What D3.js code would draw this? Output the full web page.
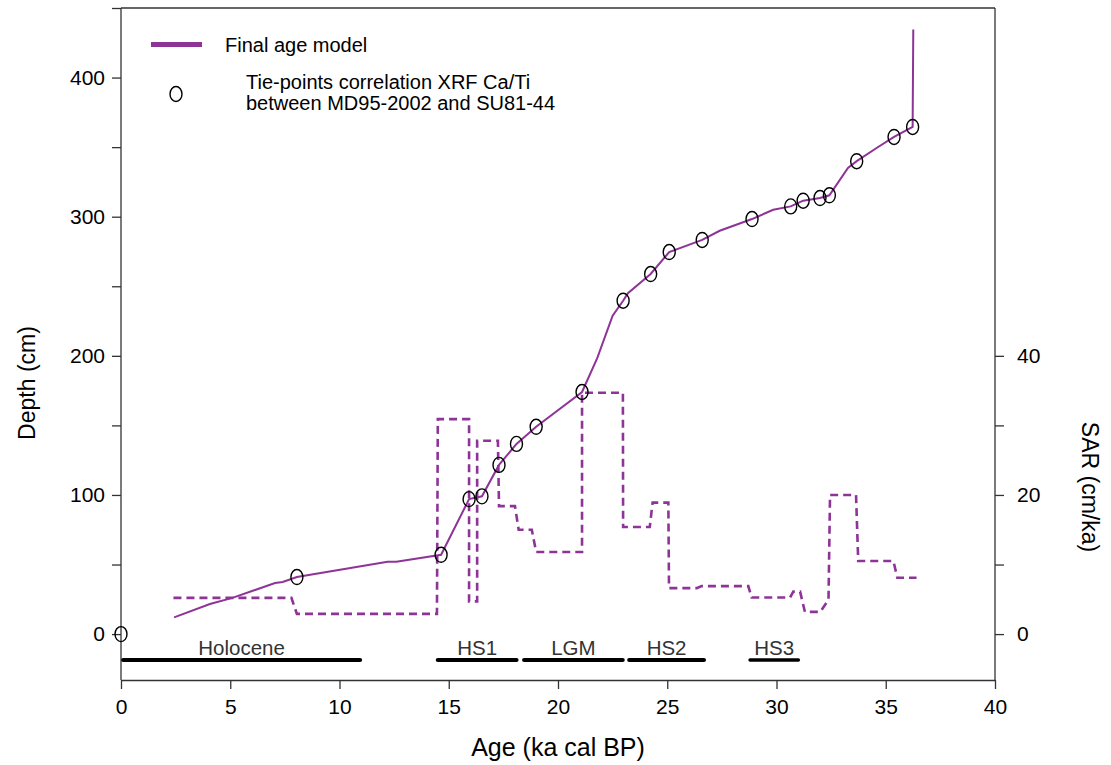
<!DOCTYPE html>
<html>
<head>
<meta charset="utf-8">
<script src="https://cdn.jsdelivr.net/npm/d3@7"></script>
<style>
  body { margin: 0; background: #fff; }
  svg { display: block; font-family: "Liberation Sans", Arial, sans-serif; }
</style>
</head>
<body>
<svg id="chart" width="1111" height="765"></svg>
<script>
// ---- data ----
const modelAge   = [2.43, 4.07, 5.1, 7.05, 7.4, 8.05, 12.2, 12.6, 14.65, 15.93, 16.52, 17.3, 18.1, 19.0, 21.1, 21.8, 22.5, 22.98, 23.2, 24.24, 25.09, 26.6, 27.4, 28.88, 29.85, 30.65, 31.22, 31.99, 32.42, 33.27, 33.67, 34.58, 35.38, 36.23, 36.26];
const modelDepth = [12, 21.6, 26, 36.7, 37.4, 41, 52, 52, 57, 97, 99, 121.6, 136.7, 149, 174, 198.5, 228.8, 239.6, 245, 258.8, 274.6, 283.3, 289.9, 298.3, 305, 307.4, 311.5, 313.4, 315.4, 335, 339.9, 349.4, 357.3, 364.5, 434.5];

const tieAge   = [0, 8.05, 14.65, 15.93, 16.52, 17.3, 18.1, 19.0, 21.1, 22.98, 24.24, 25.09, 26.6, 28.88, 30.65, 31.22, 31.99, 32.42, 33.67, 35.38, 36.23];
const tieDepth = [0, 41, 57, 97, 99, 121.6, 136.7, 149, 174, 239.6, 258.8, 274.6, 283.3, 298.3, 307.4, 311.5, 313.4, 315.4, 339.9, 357.3, 364.5];

const sarAge = [2.4, 7.8, 8.05, 14.46, 14.5, 15.93, 15.93, 16.3, 16.3, 17.25, 17.3, 18.03, 18.2, 18.8, 19.0, 21.1, 21.1, 22.97, 22.98, 24.2, 24.33, 25.05, 25.08, 26.35, 26.57, 28.71, 28.86, 30.62, 30.77, 31.08, 31.3, 32.0, 32.38, 32.45, 33.64, 33.74, 35.35, 35.53, 36.41];
const sarVal = [5.2, 5.2, 2.9, 2.9, 30.9, 30.9, 4.7, 4.7, 27.8, 27.8, 18.4, 18.4, 15.0, 15.0, 11.8, 11.8, 34.7, 34.7, 15.4, 15.4, 18.9, 18.9, 6.6, 6.6, 6.9, 6.9, 5.25, 5.25, 6.1, 6.1, 3.2, 3.2, 4.9, 20.0, 20.0, 10.5, 10.5, 8.1, 8.1];

const periodNames = ["Holocene", "HS1", "LGM", "HS2", "HS3"];
const periodStart = [0.1, 14.5, 18.45, 23.26, 28.79];
const periodEnd   = [10.94, 18.1, 22.96, 26.68, 31.0];

const xTicks = [0, 5, 10, 15, 20, 25, 30, 35, 40];
const depthTicks = [0, 50, 100, 150, 200, 250, 300, 350, 400, 450];
const depthLabels = [0, 100, 200, 300, 400];
const sarTicks = [0, 10, 20, 30, 40];
const sarLabels = [0, 20, 40];

const legendLabels = ["Final age model", "Tie-points correlation XRF Ca/Ti", "between MD95-2002 and SU81-44"];

// ---- layout ----
const L = 121, R = 995, T = 8, B = 680;
const purple = "#8e3497";
const axisCol = "#333";

const svg = d3.select("#chart");
const x = d3.scaleLinear().domain([0, 40]).range([L, R]);
const y = d3.scaleLinear().domain([-33, 450]).range([B, T]);
const y2 = d3.scaleLinear().domain([-33 / 5, 450 / 5]).range([B, T]);

// top border
svg.append("line").attr("x1", L).attr("x2", R).attr("y1", T).attr("y2", T)
  .attr("stroke", axisCol).attr("stroke-width", 1.3);

// axes
const styleAxis = g => {
  g.select(".domain").attr("stroke", axisCol).attr("stroke-width", 1.3);
  g.selectAll(".tick line").attr("stroke", axisCol).attr("stroke-width", 1.3);
  g.selectAll(".tick text").attr("fill", "#000").style("font-size", "21px")
    .style("font-family", "'Liberation Sans', Arial, sans-serif");
};

const gx = svg.append("g").attr("transform", `translate(0,${B})`)
  .call(d3.axisBottom(x).tickValues(xTicks).tickSize(9).tickPadding(10).tickSizeOuter(0));
styleAxis(gx);

const gy = svg.append("g").attr("transform", `translate(${L},0)`)
  .call(d3.axisLeft(y).tickValues(depthTicks).tickSize(9).tickPadding(7).tickSizeOuter(0)
    .tickFormat(d => depthLabels.includes(d) ? d : ""));
styleAxis(gy);

const gy2 = svg.append("g").attr("transform", `translate(${R},0)`)
  .call(d3.axisRight(y2).tickValues(sarTicks).tickSize(9).tickPadding(13).tickSizeOuter(0)
    .tickFormat(d => sarLabels.includes(d) ? d : ""));
styleAxis(gy2);
gy2.select(".domain").attr("d", `M0,${T}V${B}`);
gy.select(".domain").attr("d", `M0,${T}V${B}`);

// axis titles
svg.append("text").attr("x", (L + R) / 2).attr("y", 756).attr("text-anchor", "middle")
  .style("font-size", "25px").text("Age (ka cal BP)");
svg.append("text").attr("transform", "translate(35,383) rotate(-90)").attr("text-anchor", "middle")
  .style("font-size", "23px").text("Depth (cm)");
svg.append("text").attr("transform", "translate(1082,487) rotate(90)").attr("text-anchor", "middle")
  .style("font-size", "23px").text("SAR (cm/ka)");

// SAR dashed line
svg.append("path")
  .datum(sarAge.map((a, i) => [a, sarVal[i]]))
  .attr("fill", "none").attr("stroke", purple).attr("stroke-width", 2.6)
  .attr("stroke-dasharray", "8,5")
  .attr("d", d3.line().x(d => x(d[0])).y(d => y2(d[1])));

// age model line
svg.append("path")
  .datum(modelAge.map((a, i) => [a, modelDepth[i]]))
  .attr("fill", "none").attr("stroke", purple).attr("stroke-width", 2)
  .attr("d", d3.line().x(d => x(d[0])).y(d => y(d[1])));

// tie points
svg.append("g").selectAll("ellipse")
  .data(tieAge.map((a, i) => [a, tieDepth[i]]))
  .join("ellipse")
  .attr("cx", d => x(d[0])).attr("cy", d => y(d[1]))
  .attr("rx", 6).attr("ry", 7.5)
  .attr("fill", "none").attr("stroke", "#000").attr("stroke-width", 1.4);

// periods
const pg = svg.append("g");
periodNames.forEach((n, i) => {
  pg.append("line")
    .attr("x1", x(periodStart[i])).attr("x2", x(periodEnd[i]))
    .attr("y1", 660).attr("y2", 660)
    .attr("stroke", "#000").attr("stroke-width", i === 4 ? 3.5 : 4.2).attr("stroke-linecap", "round");
  pg.append("text")
    .attr("x", (x(periodStart[i]) + x(periodEnd[i])) / 2)
    .attr("y", 655).attr("text-anchor", "middle")
    .attr("fill", "#333").style("font-size", "20.5px").text(n);
});

// legend
svg.append("line").attr("x1", 151).attr("x2", 202).attr("y1", 44.5).attr("y2", 44.5)
  .attr("stroke", purple).attr("stroke-width", 5);
svg.append("text").attr("x", 225).attr("y", 52).style("font-size", "20px").text(legendLabels[0]);
svg.append("ellipse").attr("cx", 176).attr("cy", 94).attr("rx", 6).attr("ry", 7.5)
  .attr("fill", "none").attr("stroke", "#000").attr("stroke-width", 1.4);
svg.append("text").attr("x", 246).attr("y", 89).style("font-size", "20px").text(legendLabels[1]);
svg.append("text").attr("x", 246).attr("y", 110).style("font-size", "20px").text(legendLabels[2]);
</script>
</body>
</html>
